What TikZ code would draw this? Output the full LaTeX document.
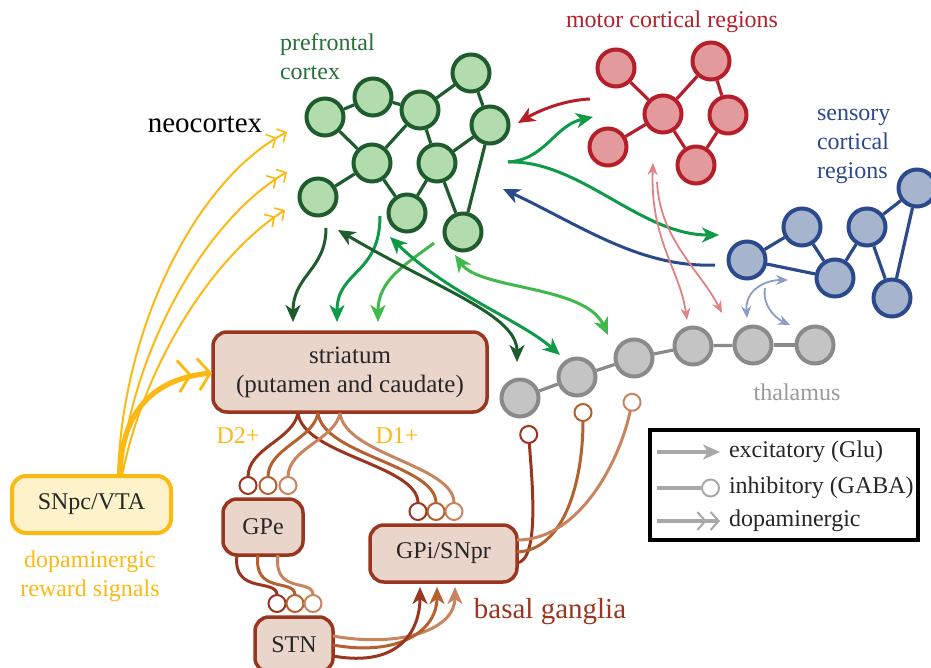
\documentclass[tikz,border=0pt]{standalone}
\usepackage{fontspec}
\setmainfont{Liberation Serif}
\usetikzlibrary{arrows.meta}

\definecolor{pfcline}{HTML}{1E5C2E}
\definecolor{pfcfill}{HTML}{B3DCAE}
\definecolor{pfctext}{HTML}{2A6E3A}
\definecolor{midgreen}{HTML}{0F9A48}
\definecolor{litegreen}{HTML}{40B84A}
\definecolor{motline}{HTML}{B51F2A}
\definecolor{motfill}{HTML}{E39A9C}
\definecolor{motlite}{HTML}{E08284}
\definecolor{senline}{HTML}{2B4A8C}
\definecolor{senfill}{HTML}{A7B4CD}
\definecolor{senlite}{HTML}{8C9DC5}
\definecolor{thalline}{HTML}{8A8A8A}
\definecolor{thalfill}{HTML}{C4C4C4}
\definecolor{thaltext}{HTML}{9A9A9A}
\definecolor{bgdark}{HTML}{9A3620}
\definecolor{bgmid}{HTML}{B5602F}
\definecolor{bglite}{HTML}{C9845E}
\definecolor{bgfill}{HTML}{EAD5CA}
\definecolor{dopa}{HTML}{FDB913}
\definecolor{dopafill}{HTML}{FEF2CA}
\definecolor{legline}{HTML}{A8A8A8}

\tikzset{
  cell/.style={circle, inner sep=0pt, minimum size=18.5pt, line width=2pt},
  pfc/.style={cell, draw=pfcline, fill=pfcfill},
  mot/.style={cell, draw=motline, fill=motfill},
  sen/.style={cell, draw=senline, fill=senfill},
  thal/.style={cell, draw=thalline, fill=thalfill},
  region/.style={draw=bgdark, fill=bgfill, line width=1.75pt, rounded corners=7pt, inner sep=0pt, text=black!85},
  exc/.style={line width=1.5pt, -{Stealth[length=8.5pt,width=7.5pt,inset=2.5pt]}},
  excboth/.style={line width=1.5pt, {Stealth[length=8.5pt,width=7.5pt,inset=2.5pt]}-{Stealth[length=8.5pt,width=7.5pt,inset=2.5pt]}},
  thinboth/.style={line width=0.9pt, {Stealth[length=6pt,width=5pt,inset=2pt]}-{Stealth[length=6pt,width=5pt,inset=2pt]}},
  thinexc/.style={line width=0.9pt, -{Stealth[length=6pt,width=5pt,inset=2pt]}},
  inh/.style={line width=1.5pt, -{Circle[open,length=9.5pt,line width=1pt]}},
  dop/.style={line width=1pt, -{Straight Barb[length=3.5pt,width=7.5pt,line width=0.8pt,sep=1.5pt]Straight Barb[length=3.5pt,width=7.5pt,line width=0.8pt]}},
}

\begin{document}
\begin{tikzpicture}[x=0.5pt,y=-0.5pt,font=\fontsize{12}{14.5}\selectfont]
  \useasboundingbox (0,0) rectangle (931,668);
  % Draw the prefrontal cortex
  \foreach \n/\x/\y in {p1/325/117, p2/373/97, p3/420/110, p4/471/73, p5/490/125,
                        p6/372/163, p7/437/163, p8/318/197, p9/407/213, p10/463/232}{
    \node[pfc] (\n) at (\x,\y) {};
  }
  \foreach \a/\b in {p1/p2, p2/p3, p3/p4, p1/p6, p3/p6, p3/p7, p4/p5, p5/p7,
                     p5/p10, p6/p8, p6/p9, p7/p9, p7/p10}{
    \draw[pfcline, line width=1.6pt] (\a) -- (\b);
  }
  % Draw the motor regions
  \foreach \n/\x/\y in {m1/616/68, m2/711/61, m3/663/114, m4/728/115, m5/608/147, m6/696/165}{
    \node[mot] (\n) at (\x,\y) {};
  }
  \foreach \a/\b in {m1/m3, m2/m3, m2/m4, m3/m5, m3/m6, m4/m6}{
    \draw[motline, line width=1.6pt] (\a) -- (\b);
  }
  % Draw the sensory regions
  \foreach \n/\x/\y in {s1/747/260, s2/802/227, s3/835/278, s4/867/227, s5/917/188, s6/892/298}{
    \node[sen] (\n) at (\x,\y) {};
  }
  \foreach \a/\b in {s1/s2, s1/s3, s2/s3, s3/s4, s4/s5, s4/s6, s5/s6}{
    \draw[senline, line width=1.6pt] (\a) -- (\b);
  }
  % Draw the thalamus
  \foreach \n/\x/\y in {t1/520/398, t2/577/377, t3/634/358, t4/693/346, t5/753/345, t6/815/345}{
    \node[thal] (\n) at (\x,\y) {};
  }
  \foreach \a/\b in {t1/t2, t2/t3, t3/t4, t4/t5, t5/t6}{
    \draw[thalline, line width=1.6pt] (\a) -- (\b);
  }

  % Draw the boxes
  \node[region, minimum width=137pt, minimum height=40pt, align=center,
        font=\fontsize{12.5}{14.5}\selectfont] (str) at (350,372) {striatum\\(putamen and caudate)};
  \node[region, draw=dopa, fill=dopafill, line width=2pt, minimum width=79.5pt,
        minimum height=28.5pt] (snpc) at (91.5,504.5) {SNpc/VTA};
  \node[region, minimum width=40pt, minimum height=28pt] (gpe) at (263,527) {GPe};
  \node[region, minimum width=73.5pt, minimum height=28.5pt] (gpi) at (443.5,553.5) {GPi/SNpr};
  \node[region, minimum width=39pt, minimum height=27.5pt] (stn) at (294,644.5) {STN};

  % Labels
  \node[text=pfctext, align=left, anchor=west] (pfclab) at (273,57) {prefrontal\\cortex};
  \node[font=\fontsize{14.5}{17}\selectfont] (neolab) at (205,124) {neocortex};
  \node[text=motline] (motlab) at (672,22) {motor cortical regions};
  \node[text=senline, align=left, anchor=west] (senlab) at (810,146) {sensory\\cortical\\regions};
  \node[text=thaltext] (thallab) at (797,392) {thalamus};
  \node[text=dopa] (d2lab) at (238,436) {D2+};
  \node[text=dopa] (d1lab) at (397,436) {D1+};
  \node[text=dopa, align=center] (doplab) at (90,576) {dopaminergic\\reward signals};
  \node[text=bgdark, font=\fontsize{14.5}{17}\selectfont] (bglab) at (550,612) {basal ganglia};

  % Ends of the free connectors
  \coordinate (y0) at (120,476);
  \coordinate (ya) at (287,132);
  \coordinate (yb) at (287,172);
  \coordinate (yc) at (285,210);
  \coordinate (ys) at (212,373);
  % Draw the dopaminergic signals
  \draw[dop, dopa] ([xshift=-1pt]y0) .. controls (122,330) and (195,180) .. (ya);
  \draw[dop, dopa] (y0) .. controls (132,350) and (205,220) .. (yb);
  \draw[dop, dopa] ([xshift=1pt]y0) .. controls (145,360) and (215,255) .. (yc);
  \draw[dopa, line width=2.6pt, -{Straight Barb[length=6pt,width=16pt,line width=1.4pt,sep=2.5pt]Straight Barb[length=6pt,width=16pt,line width=1.4pt]}]
    (y0) .. controls (121,405) and (160,378) .. (ys);

  % Draw the cortex to striatum arrows
  \coordinate (ca) at (326,228);
  \coordinate (cb) at (380,216);
  \coordinate (cc) at (434,243);
  \coordinate (sa) at (293,322);
  \coordinate (sb) at (337,322);
  \coordinate (sc) at (378,322);
  \draw[exc, pfcline] (ca) .. controls (326,270) and (293,275) .. (sa);
  \draw[exc, midgreen] (cb) .. controls (380,275) and (337,270) .. (sb);
  \draw[exc, litegreen] (cc) .. controls (405,265) and (378,280) .. (sc);
  % Draw the cortex to thalamus loops
  \coordinate (ka) at (338,230);
  \coordinate (kb) at (390,237);
  \coordinate (kc) at (455,255);
  \coordinate (ha) at (517,362);
  \coordinate (hb) at (560,355);
  \coordinate (hc) at (608,335);
  \draw[excboth, pfcline] (ka) .. controls (440,290) and (517,315) .. (ha);
  \draw[excboth, midgreen] (kb) .. controls (450,295) and (520,320) .. (hb);
  \draw[excboth, litegreen] (kc) .. controls (480,290) and (585,285) .. (hc);

  % Draw the cortico-cortical arrows
  \coordinate (ra) at (590,99);
  \coordinate (rb) at (518,123);
  \coordinate (gf) at (508,162);
  \coordinate (ga) at (593,117);
  \coordinate (gb) at (719,235);
  \coordinate (ba) at (715,265);
  \coordinate (bb) at (503,189);
  \draw[exc, motline] (ra) .. controls (565,100) and (540,110) .. (rb);
  \draw[exc, midgreen] (gf) .. controls (545,160) and (555,125) .. (ga);
  \draw[exc, midgreen] (gf) .. controls (580,160) and (640,235) .. (gb);
  \draw[exc, senline] (ba) .. controls (640,268) and (580,225) .. (bb);

  % Draw the thalamus links to motor and sensory
  \coordinate (la) at (653,163);
  \coordinate (lb) at (657,182);
  \coordinate (lt) at (687,320);
  \coordinate (lu) at (722,313);
  \draw[thinboth, motlite] (la) .. controls (650,240) and (680,270) .. (lt);
  \draw[thinexc, motlite] (lb) .. controls (660,240) and (700,270) .. (lu);
  \coordinate (va) at (747,318);
  \coordinate (vb) at (788,280);
  \coordinate (vc) at (765,288);
  \coordinate (vd) at (790,325);
  \draw[thinboth, senlite] (va) .. controls (745,290) and (765,280) .. (vb);
  \draw[thinexc, senlite] (vc) .. controls (762,305) and (775,318) .. (vd);

  % Draw the basal ganglia pathways
  \foreach \c/\sx/\ex/\gx in {bgdark/298/248/418, bgmid/318/268/436, bglite/340/288/454}{
    \draw[inh, \c] (\sx,413) .. controls (\sx-5,440) and (\ex,448) .. (\ex,495);
    \draw[inh, \c] (\sx,413) .. controls (\sx+5,455) and (\gx,465) .. (\gx,521);
  }
  \foreach \c/\sx/\ex in {bgdark/237/277, bgmid/258/295, bglite/278/313}{
    \draw[inh, \c] (\sx,555) .. controls (\sx-5,595) and (\ex,578) .. (\ex,613);
  }
  \foreach \c/\sy/\ex in {bglite/636/455, bgmid/645/437, bgdark/656/420}{
    \draw[exc, \c] (333,\sy) .. controls (400,\sy+12) and (\ex,630) .. (\ex,587);
  }
  \draw[inh, bgdark] (517,563) .. controls (540,560) and (532,480) .. (528,425);
  \draw[inh, bgmid] (517,552) .. controls (565,550) and (583,480) .. (583,403);
  \draw[inh, bglite] (517,540) .. controls (580,540) and (620,460) .. (634,393);

  % Draw the legend
  \node[draw=black, line width=1.6pt, minimum width=134pt, minimum height=55pt] (leg) at (784,485) {};
  \coordinate (ea) at (657,452);
  \coordinate (eb) at (720,452);
  \coordinate (ia) at (657,488);
  \coordinate (ib) at (720,488);
  \coordinate (oa) at (657,521);
  \coordinate (ob) at (720,521);
  \draw[exc, legline, line width=2pt] (ea) -- (eb);
  \draw[inh, legline, line width=2pt] (ia) -- (ib);
  \draw[legline, line width=2pt, -{Straight Barb[length=4pt,width=9pt,line width=1pt,sep=1.5pt]Straight Barb[length=4pt,width=9pt,line width=1pt]}] (oa) -- (ob);
  \node[anchor=west, text=black!85] (elab) at (722,452) {excitatory (Glu)};
  \node[anchor=west, text=black!85] (ilab) at (722,488) {inhibitory (GABA)};
  \node[anchor=west, text=black!85] (olab) at (722,521) {dopaminergic};
\end{tikzpicture}
\end{document}
